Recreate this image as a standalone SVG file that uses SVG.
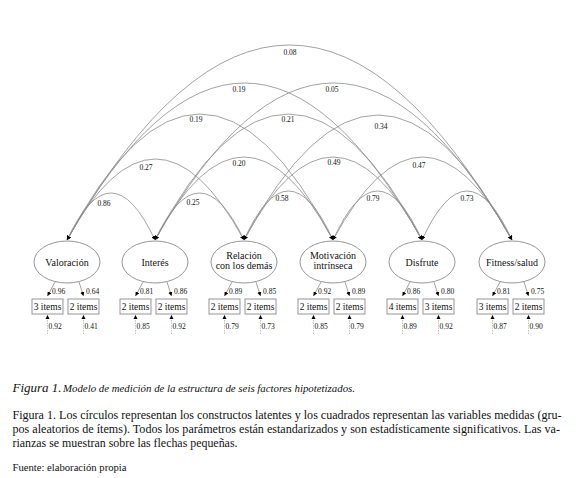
<svg xmlns="http://www.w3.org/2000/svg" width="580" height="478" viewBox="0 0 580 478" font-family="Liberation Serif, serif">
<defs>
<marker id="ah" viewBox="0 0 6 6" refX="6" refY="3" markerWidth="4.2" markerHeight="4.2" markerUnits="userSpaceOnUse" orient="auto-start-reverse">
<path d="M0,0 L6,3 L0,6 z" fill="#000"/>
</marker>
<style>
.arc{fill:none;stroke:#8a8a8a;stroke-width:0.8;marker-start:url(#ah);marker-end:url(#ah)}
.ld{fill:none;stroke:#8a8a8a;stroke-width:0.8;marker-end:url(#ah)}
.er{fill:none;stroke:#aaaaaa;stroke-width:0.7;stroke-dasharray:1.5 1;marker-end:url(#ah)}
.sh{fill:#fff;stroke:#8a8a8a;stroke-width:0.9}
.nl{font-size:10px;text-anchor:middle;fill:#111}
.bx{font-size:9.5px;text-anchor:middle;fill:#111}
.v{font-size:7.5px;fill:#111}
.vm{font-size:7.5px;text-anchor:middle;fill:#111}
</style>
</defs>
<rect x="0" y="0" width="580" height="478" fill="#fff"/>
<g id="connectors">
<path class="arc" d="M67,240 Q111,146 155,240"/>
<path class="arc" d="M155,240 Q199.5,146 244,240"/>
<path class="arc" d="M244,240 Q288.5,142 333,240"/>
<path class="arc" d="M333,240 Q377.5,142 422,240"/>
<path class="arc" d="M422,240 Q467,142 512,240"/>
<path class="arc" d="M67,240 Q155.5,78 244,240"/>
<path class="arc" d="M155,240 Q244,74 333,240"/>
<path class="arc" d="M244,240 Q333,74 422,240"/>
<path class="arc" d="M333,240 Q422.5,74 512,240"/>
<path class="arc" d="M67,240 Q200,-12 333,240"/>
<path class="arc" d="M155,240 Q288.5,-12 422,240"/>
<path class="arc" d="M244,240 Q378,-10 512,240"/>
<path class="arc" d="M67,240 Q244.5,-74 422,240"/>
<path class="arc" d="M155,240 Q333.5,-74 512,240"/>
<path class="arc" d="M67,240 Q289.5,-150 512,240"/>
<g>
<text class="vm" x="290" y="55">0.08</text>
<text class="vm" x="239" y="92">0.19</text>
<text class="vm" x="332" y="92">0.05</text>
<text class="vm" x="196" y="122">0.19</text>
<text class="vm" x="288" y="122">0.21</text>
<text class="vm" x="381" y="129">0.34</text>
<text class="vm" x="146" y="170">0.27</text>
<text class="vm" x="239" y="166">0.20</text>
<text class="vm" x="334" y="165">0.49</text>
<text class="vm" x="419" y="168">0.47</text>
<text class="vm" x="104" y="206">0.86</text>
<text class="vm" x="193" y="205">0.25</text>
<text class="vm" x="282" y="201">0.58</text>
<text class="vm" x="373" y="201">0.79</text>
<text class="vm" x="467" y="201">0.73</text>
</g>
</g>
<g id="n-valoracion">
<ellipse class="sh" cx="67" cy="262" rx="33" ry="21"/>
<text class="nl" x="67" y="265.5">Valoración</text>
<path class="ld" d="M55,282 L47.5,296"/><path class="ld" d="M79,282 L83.5,296"/>
<text class="v" x="52" y="294">0.96</text><text class="v" x="86" y="294">0.64</text>
<rect class="sh" x="32" y="299" width="31" height="15"/><rect class="sh" x="68" y="299" width="31" height="15"/>
<text class="bx" x="47.5" y="310">3 items</text><text class="bx" x="83.5" y="310">2 items</text>
<path class="er" d="M47.5,334 L47.5,315"/><path class="er" d="M83.5,334 L83.5,315"/>
<text class="v" x="48.5" y="329">0.92</text><text class="v" x="84.5" y="329">0.41</text>
</g>
<g id="n-interes">
<ellipse class="sh" cx="155" cy="262" rx="33" ry="21"/>
<text class="nl" x="155" y="265.5">Interés</text>
<path class="ld" d="M143,282 L135.5,296"/><path class="ld" d="M167,282 L171.5,296"/>
<text class="v" x="140" y="294">0.81</text><text class="v" x="174" y="294">0.86</text>
<rect class="sh" x="120" y="299" width="31" height="15"/><rect class="sh" x="156" y="299" width="31" height="15"/>
<text class="bx" x="135.5" y="310">2 items</text><text class="bx" x="171.5" y="310">2 items</text>
<path class="er" d="M135.5,334 L135.5,315"/><path class="er" d="M171.5,334 L171.5,315"/>
<text class="v" x="136.5" y="329">0.85</text><text class="v" x="172.5" y="329">0.92</text>
</g>
<g id="n-relacion">
<ellipse class="sh" cx="244" cy="262" rx="33" ry="21"/>
<text class="nl" x="244" y="259">Relación</text>
<text class="nl" x="244" y="269">con los demás</text>
<path class="ld" d="M232,282 L224.5,296"/><path class="ld" d="M256,282 L260.5,296"/>
<text class="v" x="229" y="294">0.89</text><text class="v" x="263" y="294">0.85</text>
<rect class="sh" x="209" y="299" width="31" height="15"/><rect class="sh" x="245" y="299" width="31" height="15"/>
<text class="bx" x="224.5" y="310">2 items</text><text class="bx" x="260.5" y="310">2 items</text>
<path class="er" d="M224.5,334 L224.5,315"/><path class="er" d="M260.5,334 L260.5,315"/>
<text class="v" x="225.5" y="329">0.79</text><text class="v" x="261.5" y="329">0.73</text>
</g>
<g id="n-motivacion">
<ellipse class="sh" cx="333" cy="262" rx="33" ry="21"/>
<text class="nl" x="333" y="259">Motivación</text>
<text class="nl" x="333" y="269">intrínseca</text>
<path class="ld" d="M321,282 L313.5,296"/><path class="ld" d="M345,282 L349.5,296"/>
<text class="v" x="318" y="294">0.92</text><text class="v" x="352" y="294">0.89</text>
<rect class="sh" x="298" y="299" width="31" height="15"/><rect class="sh" x="334" y="299" width="31" height="15"/>
<text class="bx" x="313.5" y="310">2 items</text><text class="bx" x="349.5" y="310">2 items</text>
<path class="er" d="M313.5,334 L313.5,315"/><path class="er" d="M349.5,334 L349.5,315"/>
<text class="v" x="314.5" y="329">0.85</text><text class="v" x="350.5" y="329">0.79</text>
</g>
<g id="n-disfrute">
<ellipse class="sh" cx="422" cy="262" rx="33" ry="21"/>
<text class="nl" x="422" y="265.5">Disfrute</text>
<path class="ld" d="M410,282 L402.5,296"/><path class="ld" d="M434,282 L438.5,296"/>
<text class="v" x="407" y="294">0.86</text><text class="v" x="441" y="294">0.80</text>
<rect class="sh" x="387" y="299" width="31" height="15"/><rect class="sh" x="423" y="299" width="31" height="15"/>
<text class="bx" x="402.5" y="310">4 items</text><text class="bx" x="438.5" y="310">3 items</text>
<path class="er" d="M402.5,334 L402.5,315"/><path class="er" d="M438.5,334 L438.5,315"/>
<text class="v" x="403.5" y="329">0.89</text><text class="v" x="439.5" y="329">0.92</text>
</g>
<g id="n-fitness">
<ellipse class="sh" cx="512" cy="262" rx="33" ry="21"/>
<text class="nl" x="512" y="265.5">Fitness/salud</text>
<path class="ld" d="M500,282 L492.5,296"/><path class="ld" d="M524,282 L528.5,296"/>
<text class="v" x="497" y="294">0.81</text><text class="v" x="531" y="294">0.75</text>
<rect class="sh" x="477" y="299" width="31" height="15"/><rect class="sh" x="513" y="299" width="31" height="15"/>
<text class="bx" x="492.5" y="310">3 items</text><text class="bx" x="528.5" y="310">2 items</text>
<path class="er" d="M492.5,334 L492.5,315"/><path class="er" d="M528.5,334 L528.5,315"/>
<text class="v" x="493.5" y="329">0.87</text><text class="v" x="529.5" y="329">0.90</text>
</g>
<g id="caption" fill="#111">
<text x="12.5" y="392" font-style="italic" font-size="13">Figura 1.</text>
<text x="63" y="392" font-style="italic" font-size="10" textLength="292" lengthAdjust="spacingAndGlyphs">Modelo de medición de la estructura de seis factores hipotetizados.</text>
<text x="12.5" y="419" font-size="11.5" textLength="549" lengthAdjust="spacingAndGlyphs">Figura 1. Los círculos representan los constructos latentes y los cuadrados representan las variables medidas (gru-</text>
<text x="12.5" y="433" font-size="11.5" textLength="547.5" lengthAdjust="spacingAndGlyphs">pos aleatorios de ítems). Todos los parámetros están estandarizados y son estadísticamente significativos. Las va-</text>
<text x="12.5" y="447" font-size="11.5" textLength="225" lengthAdjust="spacingAndGlyphs">rianzas se muestran sobre las flechas pequeñas.</text>
<text x="12.5" y="471" font-size="10" textLength="114" lengthAdjust="spacingAndGlyphs">Fuente: elaboración propia</text>
</g>
</svg>
